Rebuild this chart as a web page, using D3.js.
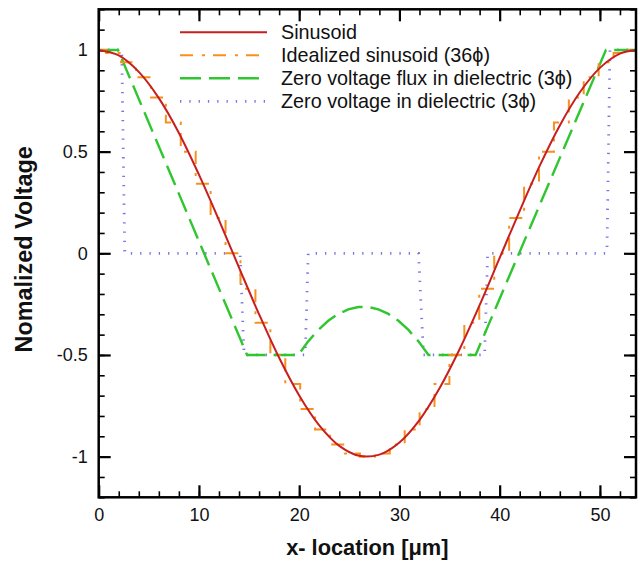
<!DOCTYPE html>
<html>
<head>
<meta charset="utf-8">
<script src="https://cdn.jsdelivr.net/npm/d3@7"></script>
<style>
  body { margin: 0; background: #fff; }
  text { font-family: "Liberation Sans", Arial, sans-serif; fill: #111; }
</style>
</head>
<body>
<div id="chart"></div>
<script>
// Sinusoid
var sinX = [0, 2, 4, 6, 8, 10, 12, 14, 16, 18, 20, 22, 24, 26, 28, 30, 32, 34, 36, 38, 40, 42, 44, 46, 48, 50, 52, 53.6];
var sinY = [1, 0.973, 0.892, 0.763, 0.592, 0.387, 0.163, -0.070, -0.300, -0.514, -0.699, -0.846, -0.947, -0.996,
            -0.990, -0.930, -0.820, -0.664, -0.472, -0.255, -0.023, 0.209, 0.431, 0.629, 0.792, 0.912, 0.982, 1];

// Idealized sinusoid, 36 phases (one level per electrode)
var idealX = [0, 1.49, 2.98, 4.47, 5.96, 7.44, 8.93, 10.42, 11.91, 13.4, 14.89, 16.38, 17.87, 19.36, 20.84, 22.33,
              23.82, 25.31, 26.8, 28.29, 29.78, 31.27, 32.76, 34.24, 35.73, 37.22, 38.71, 40.2, 41.69, 43.18,
              44.67, 46.16, 47.64, 49.13, 50.62, 52.11, 53.6];
var idealY = [1, 0.985, 0.94, 0.866, 0.766, 0.643, 0.5, 0.342, 0.174, 0, -0.174, -0.342, -0.5, -0.643, -0.766, -0.866,
              -0.94, -0.985, -1, -0.985, -0.94, -0.866, -0.766, -0.643, -0.5, -0.342, -0.174, 0, 0.174,
              0.342, 0.5, 0.643, 0.766, 0.866, 0.94, 0.985, 1];

// Zero voltage flux in dielectric (3 phase)
var fluxX = [0, 1.93, 14.8, 19.9, 20.9, 21.9, 22.9, 23.9, 24.9, 25.9, 26.9, 27.9, 28.9, 29.9, 30.9, 31.9, 32.9, 37.6, 50.6, 53.6];
var fluxY = [1, 1, -0.5, -0.5, -0.433, -0.377, -0.332, -0.298, -0.276, -0.264, -0.264, -0.276, -0.298, -0.332, -0.377, -0.433, -0.5, -0.5, 1, 1];

// Zero voltage in dielectric (3 phase)
var dielX = [0, 2.3, 2.6, 14.1, 14.5, 20.6, 20.9, 31.9, 32.4, 38.5, 38.8, 50.7, 51.0, 53.6];
var dielY = [1, 1, 0, 0, -0.5, -0.5, 0, 0, -0.5, -0.5, 0, 0, 1, 1];

var legendLabels = ["Sinusoid", "Idealized sinusoid (36\u03D5)", "Zero voltage flux in dielectric (3\u03D5)", "Zero voltage in dielectric (3\u03D5)"];
var xTicks = [0, 10, 20, 30, 40, 50];
var xMinor = d3.range(0, 54, 2);
var yTicks = [-1, -0.5, 0, 0.5, 1];
var yMinor = d3.range(-12, 13).map(function (d) { return d / 10; });

var width = 640, height = 562;
var plotLeft = 98.7, plotRight = 636, plotTop = 9.3, plotBottom = 497.3;

var svg = d3.select("#chart").append("svg")
    .attr("width", width)
    .attr("height", height);

var x = d3.scaleLinear().domain([0, 53.6]).range([plotLeft, plotRight]);
var y = d3.scaleLinear().domain([-1.2, 1.2]).range([plotBottom, plotTop]);

function zip(xs, ys) {
    return xs.map(function (d, i) { return [d, ys[i]]; });
}

function addAxis(axis, tx, ty) {
    var g = svg.append("g")
        .attr("transform", "translate(" + tx + "," + ty + ")")
        .call(axis);
    g.select(".domain").remove();
    g.selectAll("line").attr("stroke", "#000").attr("stroke-width", 1.6);
    return g;
}
// minor ticks on all four sides, pointing in
addAxis(d3.axisBottom(x).tickValues(xMinor).tickSize(-6).tickFormat(""), 0, plotBottom);
addAxis(d3.axisTop(x).tickValues(xMinor).tickSize(-6).tickFormat(""), 0, plotTop);
addAxis(d3.axisLeft(y).tickValues(yMinor).tickSize(-6).tickFormat(""), plotLeft, 0);
addAxis(d3.axisRight(y).tickValues(yMinor).tickSize(-6).tickFormat(""), plotRight, 0);

// major ticks
var gx = addAxis(d3.axisBottom(x).tickValues(xTicks).tickSize(-12).tickPadding(11)
    .tickFormat(function (d) { return String(d); }), 0, plotBottom);
var gxt = addAxis(d3.axisTop(x).tickValues(xTicks).tickSize(-12).tickFormat(""), 0, plotTop);
var gy = addAxis(d3.axisLeft(y).tickValues(yTicks).tickSize(-12).tickPadding(11)
    .tickFormat(function (d) { return String(d); }), plotLeft, 0);
var gyr = addAxis(d3.axisRight(y).tickValues(yTicks).tickSize(-12).tickFormat(""), plotRight, 0);
[gx, gxt, gy, gyr].forEach(function (g) { g.selectAll("line").attr("stroke-width", 2.2); });
svg.selectAll(".tick text")
    .style("font-family", "Liberation Sans, Arial, sans-serif")
    .style("font-size", "18px")
    .attr("fill", "#111");

// curves
var line = d3.line()
    .x(function (d) { return x(d[0]); })
    .y(function (d) { return y(d[1]); });

var series = [
    { pts: zip(dielX, dielY), color: "#7676e4", width: 2.8, dash: "1.3,8", curve: d3.curveLinear },
    { pts: zip(fluxX, fluxY), color: "#2fc62f", width: 2.4, dash: "21,8", curve: d3.curveLinear },
    { pts: zip(idealX, idealY), color: "#f7901e", width: 2, dash: "13,9,3,8", curve: d3.curveStep },
    { pts: zip(sinX, sinY), color: "#c81e1e", width: 2, dash: null, curve: d3.curveCatmullRom }
];

svg.append("g")
    .selectAll("path")
    .data(series)
    .join("path")
    .attr("d", function (d) { return line.curve(d.curve)(d.pts); })
    .attr("fill", "none")
    .attr("stroke", function (d) { return d.color; })
    .attr("stroke-width", function (d) { return d.width; })
    .attr("stroke-dasharray", function (d) { return d.dash; });

// frame
svg.append("rect")
    .attr("x", plotLeft).attr("y", plotTop)
    .attr("width", plotRight - plotLeft).attr("height", plotBottom - plotTop)
    .attr("fill", "none")
    .attr("stroke", "#000")
    .attr("stroke-width", 2.5);

// legend, top to bottom: sinusoid, idealized, flux, dielectric
var legendOrder = [3, 2, 1, 0];
var lg = svg.append("g").selectAll("g")
    .data(legendLabels)
    .join("g")
    .attr("transform", function (d, i) { return "translate(180," + (32.3 + i * 23) + ")"; });
lg.append("line")
    .attr("x1", 0).attr("x2", 87)
    .attr("stroke", function (d, i) { return series[legendOrder[i]].color; })
    .attr("stroke-width", function (d, i) { return series[legendOrder[i]].width; })
    .attr("stroke-dasharray", function (d, i) { return series[legendOrder[i]].dash; });
lg.append("text")
    .attr("x", 101)
    .attr("dy", "0.35em")
    .style("font-size", "19.8px")
    .text(function (d) { return d; });

// axis titles
svg.append("text")
    .attr("x", (plotLeft + plotRight) / 2)
    .attr("y", 555)
    .attr("text-anchor", "middle")
    .style("font-size", "21.8px")
    .style("font-weight", "bold")
    .text("x- location [\u03BCm]");

svg.append("text")
    .attr("transform", "translate(32," + ((plotTop + plotBottom) / 2 - 4) + ") rotate(-90)")
    .attr("text-anchor", "middle")
    .style("font-size", "23.4px")
    .style("font-weight", "bold")
    .text("Nomalized Voltage");
</script>
</body>
</html>
